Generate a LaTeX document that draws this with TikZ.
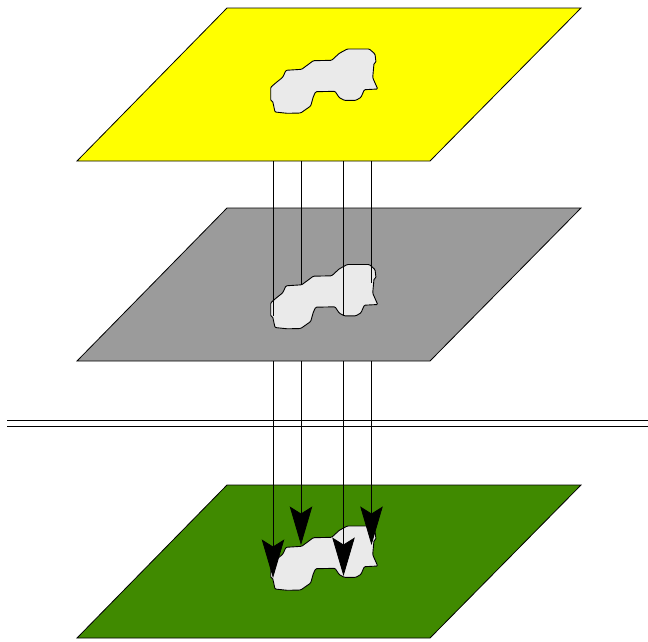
\documentclass[tikz,border=0pt]{standalone}
\usepackage{xcolor}
\usetikzlibrary{arrows.meta}
\definecolor{PlateYellow}{HTML}{FFFF00}
\definecolor{PlateGray}{HTML}{9B9B9B}
\definecolor{PlateGreen}{HTML}{408A00}
\definecolor{BlobGray}{HTML}{EAEAEA}
\tikzset{>={Stealth[length=38.5pt,width=22.5pt,inset=7pt]}}
\tikzset{plate/.style={draw=black,line width=0.8pt,line join=miter}}
\tikzset{blob/.style={draw=black,fill=BlobGray,line width=0.9pt,rounded corners=1pt}}
\tikzset{drop/.style={black,line width=0.8pt}}

\newcommand{\plateshape}{(77,161) -- (227,8) -- (581,8) -- (430,161) -- cycle}
\newcommand{\blobshape}{(270.7,87.3) -- (270.7,100.7) -- (272.7,101.3) -- (275,112)
  -- (287.3,113.3) -- (300.7,113) -- (310.7,106) -- (313.3,96.7) -- (315.7,91.7)
  -- (335,91.3) -- (339.3,97.7) -- (344.3,100.3) -- (356,100.3) -- (361,97.3)
  -- (364.3,89.7) -- (377.7,89) -- (372.7,77.7) -- (374,63.3) -- (376,62.3)
  -- (375,54) -- (369.3,49) -- (347.3,49) -- (339.3,53.3) -- (331.7,60.3)
  -- (313.3,60.7) -- (301.7,69.3) -- (286,70.3) -- (282.7,77.3) -- (276,82.7) -- cycle}

\begin{document}
\begin{tikzpicture}[x=1pt,y=-1pt]
  \useasboundingbox (0,0) rectangle (648,641);

  % Plates
  \path[plate,fill=PlateYellow] \plateshape;
  \begin{scope}[shift={(0,200)}]
    \path[plate,fill=PlateGray] \plateshape;
  \end{scope}
  \begin{scope}[shift={(0,477)}]
    \path[plate,fill=PlateGreen] \plateshape;
  \end{scope}

  % Blobs
  \path[blob] \blobshape;
  \begin{scope}[shift={(0,215.5)}]
    \path[blob] \blobshape;
  \end{scope}
  \begin{scope}[shift={(0,477)}]
    \path[blob] \blobshape;
  \end{scope}

  % Double rule
  \coordinate (RuleA) at (7,420.7);
  \coordinate (RuleB) at (648,420.7);
  \coordinate (RuleC) at (7,426);
  \coordinate (RuleD) at (648,426);
  \draw[drop] (RuleA) -- (RuleB);
  \draw[drop] (RuleC) -- (RuleD);

  % Drops: x, end on the gray plate, tip on the green plate
  \foreach \n/\x/\yA/\yB in {1/273/316/578,2/301/284/545,3/343.5/315/576,4/371.5/283/545}{
    \coordinate (Top\n) at (\x,161);
    \coordinate (Mid\n) at (\x,\yA);
    \coordinate (Low\n) at (\x,361);
    \coordinate (Tip\n) at (\x,\yB);
    \draw[drop] (Top\n) -- (Mid\n);
    \draw[drop,->] (Low\n) -- (Tip\n);
  }
\end{tikzpicture}
\end{document}
